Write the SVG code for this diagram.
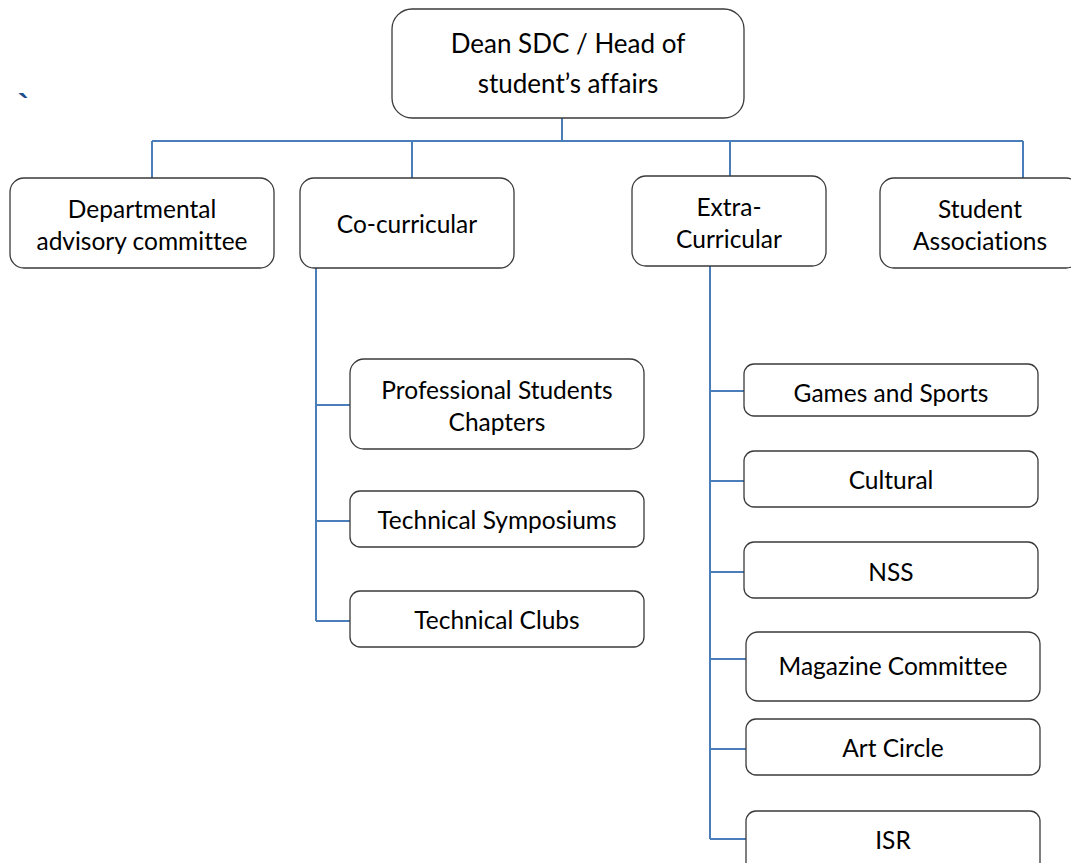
<svg xmlns="http://www.w3.org/2000/svg" width="1071" height="863" viewBox="0 0 1071 863">
<style>
.box{fill:#fff;stroke:#3a3a3a;stroke-width:1.3}
.lbl{font-family:Lato,"Open Sans","Liberation Sans",sans-serif;fill:#000;text-anchor:middle;font-variant-ligatures:none}
.t1{font-size:26px}
.t2{font-size:24.5px}
.con{fill:none;stroke:#4a7ebb;stroke-width:2}
</style>
<rect width="1071" height="863" fill="#fff"/>
<text x="18" y="116" style="font-family:'Liberation Sans',sans-serif;font-size:32px;fill:#1f4e8c;font-weight:bold">`</text>
<g id="connectors">
<path class="con" d="M562 118V141M152 141H1023M152 141V178M412 141V178M730 141V176M1023 141V178"/>
<path class="con" d="M316 268V621M316 405H350M316 521H350M316 621H350"/>
<path class="con" d="M710 266V839M710 391H744M710 481H744M710 572H744M710 659H746M710 749H746M710 839H746"/>
</g>
<g id="dean"><rect class="box" x="392" y="9" width="352" height="109" rx="20"/><text class="lbl t1" x="568" y="53">Dean SDC / Head of</text><text class="lbl t1" x="568" y="93">student’s affairs</text></g>
<g id="departmental"><rect class="box" x="10" y="178" width="264" height="90" rx="14"/><text class="lbl t2" x="142" y="218">Departmental</text><text class="lbl t2" x="142" y="250">advisory committee</text></g>
<g id="cocurricular"><rect class="box" x="300" y="178" width="214" height="90" rx="14"/><text class="lbl t2" x="407" y="233">Co-curricular</text></g>
<g id="extracurricular"><rect class="box" x="632" y="176" width="194" height="90" rx="14"/><text class="lbl t2" x="729" y="216">Extra-</text><text class="lbl t2" x="729" y="248">Curricular</text></g>
<g id="associations"><rect class="box" x="880" y="178" width="200" height="90" rx="14"/><text class="lbl t2" x="980" y="218">Student</text><text class="lbl t2" x="980" y="250">Associations</text></g>
<g id="chapters"><rect class="box" x="350" y="359" width="294" height="90" rx="14"/><text class="lbl t2" x="497" y="399">Professional Students</text><text class="lbl t2" x="497" y="431">Chapters</text></g>
<g id="symposiums"><rect class="box" x="350" y="491" width="294" height="56" rx="10"/><text class="lbl t2" x="497" y="529">Technical Symposiums</text></g>
<g id="clubs"><rect class="box" x="350" y="591" width="294" height="56" rx="10"/><text class="lbl t2" x="497" y="629">Technical Clubs</text></g>
<g id="games"><rect class="box" x="744" y="364" width="294" height="52" rx="10"/><text class="lbl t2" x="891" y="402">Games and Sports</text></g>
<g id="cultural"><rect class="box" x="744" y="451" width="294" height="56" rx="10"/><text class="lbl t2" x="891" y="489">Cultural</text></g>
<g id="nss"><rect class="box" x="744" y="542" width="294" height="56" rx="10"/><text class="lbl t2" x="891" y="581">NSS</text></g>
<g id="magazine"><rect class="box" x="746" y="632" width="294" height="69" rx="12"/><text class="lbl t2" x="893" y="675">Magazine Committee</text></g>
<g id="artcircle"><rect class="box" x="746" y="719" width="294" height="56" rx="10"/><text class="lbl t2" x="893" y="757">Art Circle</text></g>
<g id="isr"><rect class="box" x="746" y="811" width="294" height="70" rx="10"/><text class="lbl t2" x="893" y="849">ISR</text></g>
</svg>
